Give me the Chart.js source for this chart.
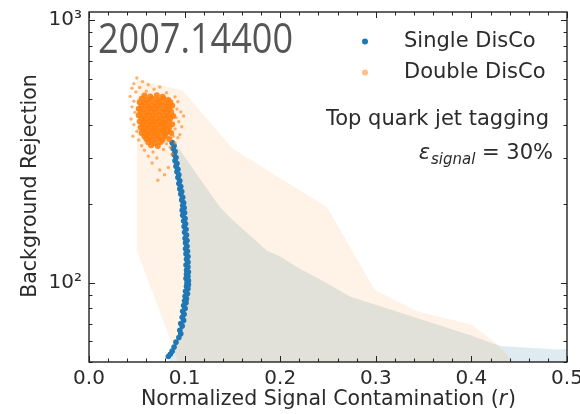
<!DOCTYPE html>
<html>
<head>
<meta charset="utf-8">
<script src="https://cdn.jsdelivr.net/npm/chart.js@4.4.0/dist/chart.umd.min.js"></script>
<style>
  html, body { margin: 0; padding: 0; background: #fff; }
  #wrap { width: 580px; height: 414px; }
</style>
</head>
<body>
<div id="wrap"><canvas id="chart" width="580" height="414"></canvas></div>
<script>
// Single DisCo: [signal contamination r, background rejection]
const singlePoints = [
  [0.087,342],[0.089,333],[0.088,325],[0.090,316],[0.089,308],[0.091,300],[0.090,292],[0.092,285],
  [0.091,278],[0.093,271],[0.092,265],[0.094,258],[0.093,252],[0.095,245],[0.094,239],[0.096,233],
  [0.095,228],[0.097,223],[0.096,218],[0.098,212],[0.097,207],[0.099,202],[0.098,197],[0.0995,193],
  [0.0975,189],[0.100,185],[0.098,181],[0.1005,176],[0.099,172],[0.101,168],[0.0995,164],[0.1015,160],
  [0.100,156],[0.102,152],[0.1005,148],[0.1025,145],[0.101,142],[0.1025,138],[0.101,135],[0.103,132],
  [0.1015,129],[0.1035,126],[0.102,123],[0.1035,120],[0.1015,117],[0.1035,115],[0.102,112],[0.104,110],
  [0.102,108],[0.1035,106],[0.1015,104],[0.104,102],[0.1025,100],[0.104,98.5],[0.102,97],[0.1035,95],
  [0.101,93],[0.103,91],[0.1005,89],[0.102,87],[0.100,85.5],[0.1015,84],[0.099,82],[0.1005,80],
  [0.098,78],[0.0995,76],[0.0975,74],[0.099,72],[0.096,70],[0.0975,68.5],[0.095,66],[0.096,64],
  [0.094,62],[0.091,59.5],[0.089,57],[0.087,55],[0.085,53.5],[0.083,52.5]
];

// Double DisCo: dense core
const doubleCore = [
  [0.058,517],[0.064,512],[0.071,518],[0.077,511],
  [0.055,502],[0.060,497],[0.066,503],[0.072,498],[0.078,502],[0.083,497],
  [0.053,487],[0.058,484],[0.063,489],[0.069,485],[0.074,488],[0.080,483],[0.085,487],
  [0.055,473],[0.061,470],[0.066,474],[0.071,471],[0.076,475],[0.082,470],[0.087,473],
  [0.052,460],[0.057,457],[0.063,461],[0.068,458],[0.073,461],[0.079,457],[0.084,460],
  [0.054,447],[0.060,444],[0.065,448],[0.070,445],[0.076,448],[0.081,444],[0.086,447],
  [0.052,435],[0.057,432],[0.062,436],[0.067,433],[0.073,436],[0.078,432],[0.083,435],[0.088,432],
  [0.055,423],[0.060,420],[0.065,424],[0.070,421],[0.075,424],[0.080,420],[0.085,423],
  [0.053,412],[0.058,409],[0.063,413],[0.068,410],[0.073,413],[0.078,409],[0.083,412],
  [0.056,402],[0.061,399],[0.066,403],[0.071,400],[0.076,403],[0.081,399],[0.087,402],
  [0.054,391],[0.059,388],[0.064,392],[0.069,389],[0.074,392],[0.079,388],[0.084,391],
  [0.057,381],[0.062,378],[0.067,382],[0.072,379],[0.077,382],[0.082,378],
  [0.055,372],[0.060,369],[0.065,373],[0.070,370],[0.075,373],[0.080,369],[0.086,372],
  [0.058,362],[0.063,359],[0.068,363],[0.073,360],[0.079,362],
  [0.060,353],[0.066,350],[0.071,354],[0.077,351],[0.084,353],
  [0.062,343],[0.069,341],[0.075,344],
  [0.065,334],[0.072,332]
];

// Double DisCo: scattered outliers around the core
const doubleOuter = [
  [0.050,603],[0.047,573],[0.056,584],[0.062,568],[0.045,551],[0.053,555],[0.068,546],[0.074,557],
  [0.049,533],[0.060,537],[0.081,530],[0.043,513],[0.047,492],[0.090,511],[0.093,490],[0.045,468],
  [0.092,459],[0.048,446],[0.096,448],[0.044,421],[0.091,426],[0.099,432],[0.047,400],[0.094,411],
  [0.050,378],[0.090,386],[0.097,393],[0.046,362],[0.052,350],[0.088,362],[0.093,357],[0.055,333],
  [0.081,339],[0.090,341],[0.058,320],[0.067,315],[0.078,322],[0.085,328],[0.062,304],[0.071,299],
  [0.066,286],[0.074,269],[0.079,258],[0.072,246],[0.083,275],[0.095,367],[0.087,309]
];

// outline of the Single DisCo spread band
const singleBand = [
  [0.087,341],[0.090,341],[0.137,194],[0.150,174],[0.186,133],[0.200,126],[0.221,113],[0.242,103],
  [0.273,88.7],[0.399,63.2],[0.430,57.5],[0.460,56.6],[0.490,55.8],[0.520,56.6],[0.520,40],
  [0.083,40],[0.084,52],[0.092,60],[0.098,75],[0.100,100],[0.100,130],[0.095,200],[0.090,290]
];

// outline of the Double DisCo spread band
const doubleBand = [
  [0.050,592],[0.098,541],[0.150,325],[0.249,194],[0.299,94],[0.343,78],[0.400,69.5],[0.427,58.5],
  [0.444,50],[0.444,40],[0.093,40],[0.093,50],[0.088,57],[0.050,133]
];

const xTickValues = [0, 0.1, 0.2, 0.3, 0.4, 0.5];
const xTickLabels = ['0.0', '0.1', '0.2', '0.3', '0.4', '0.5'];
const yTickValues = [100, 1000];
const yTickLabels = ['10\u00B2', '10\u00B3'];

const BLUE = '#1f77b4';
const TEXT = '#2b2b2b';
const SANS = '"DejaVu Sans", sans-serif';

const toXY = pts => pts.map(p => ({ x: p[0], y: p[1] }));

// inward ticks on all four sides plus the frame
const frame = {
  id: 'frame',
  afterDatasetsDraw(chart) {
    const { ctx, chartArea: a, scales: { x, y } } = chart;
    ctx.save();
    ctx.strokeStyle = '#222';
    ctx.lineWidth = 1;
    ctx.beginPath();
    for (let i = 0; i <= 25; i++) {
      const px = Math.round(x.getPixelForValue(i * 0.02)) + 0.5;
      const len = i % 5 === 0 ? 6 : 3.5;
      ctx.moveTo(px, a.bottom); ctx.lineTo(px, a.bottom - len);
      ctx.moveTo(px, a.top); ctx.lineTo(px, a.top + len);
    }
    [10, 100, 1000].forEach(dec => {
      for (let m = 1; m <= 9; m++) {
        const v = dec * m;
        if (v < y.min || v > y.max) continue;
        const py = Math.round(y.getPixelForValue(v)) + 0.5;
        const len = m === 1 ? 6 : 3.5;
        ctx.moveTo(a.left, py); ctx.lineTo(a.left + len, py);
        ctx.moveTo(a.right, py); ctx.lineTo(a.right - len, py);
      }
    });
    ctx.stroke();
    ctx.lineWidth = 1.4;
    ctx.strokeRect(a.left, a.top, a.right - a.left, a.bottom - a.top);
    ctx.restore();
  },
  afterDraw(chart) {
    const { ctx } = chart;
    ctx.save();

    // paper id in the corner
    ctx.fillStyle = '#555';
    ctx.font = '42px "Open Sans", sans-serif';
    ctx.textBaseline = 'alphabetic';
    const id = '2007.14400';
    const sx = 195 / ctx.measureText(id).width;
    ctx.save();
    ctx.translate(98, 53);
    ctx.scale(sx, 1);
    ctx.fillText(id, 0, 0);
    ctx.restore();

    // legend
    ctx.fillStyle = BLUE;
    ctx.beginPath(); ctx.arc(365, 41.5, 3, 0, Math.PI * 2); ctx.fill();
    ctx.fillStyle = 'rgba(255,127,14,0.5)';
    ctx.beginPath(); ctx.arc(365, 72.5, 3, 0, Math.PI * 2); ctx.fill();
    ctx.fillStyle = TEXT;
    ctx.font = '21px ' + SANS;
    ctx.textAlign = 'left';
    ctx.fillText('Single DisCo', 404, 47);
    ctx.fillText('Double DisCo', 404, 78);

    // annotation
    ctx.textAlign = 'right';
    ctx.fillText('Top quark jet tagging', 549, 125);
    const rest = ' = 30%';
    const wRest = ctx.measureText(rest).width;
    ctx.font = 'italic 15px ' + SANS;
    const wSub = ctx.measureText('signal').width;
    let xr = 553;
    ctx.font = '21px ' + SANS;
    ctx.fillText(rest, xr, 159);
    xr -= wRest;
    ctx.font = 'italic 15px ' + SANS;
    ctx.fillText('signal', xr, 164);
    xr -= wSub + 1;
    ctx.font = 'italic 21px ' + SANS;
    ctx.fillText('\u03B5', xr, 159);

    // axis titles
    ctx.textAlign = 'left';
    ctx.textBaseline = 'alphabetic';
    const xt = 'Normalized Signal Contamination (';
    ctx.font = '20.5px ' + SANS;
    const w1 = ctx.measureText(xt).width;
    ctx.font = 'italic 20.5px ' + SANS;
    const w2 = ctx.measureText('r').width;
    ctx.font = '20.5px ' + SANS;
    const w3 = ctx.measureText(')').width;
    const x0 = 328 - (w1 + w2 + w3) / 2;
    ctx.fillText(xt, x0, 405);
    ctx.font = 'italic 20.5px ' + SANS;
    ctx.fillText('r', x0 + w1, 405);
    ctx.font = '20.5px ' + SANS;
    ctx.fillText(')', x0 + w1 + w2 + 1, 405);

    ctx.save();
    ctx.translate(31, 186);
    ctx.rotate(-Math.PI / 2);
    ctx.textAlign = 'center';
    ctx.textBaseline = 'middle';
    ctx.fillText('Background Rejection', 0, 0);
    ctx.restore();

    ctx.restore();
  }
};

new Chart(document.getElementById('chart'), {
  type: 'scatter',
  data: {
    datasets: [
      {
        label: 'Double DisCo',
        data: toXY(doubleCore),
        pointRadius: 3,
        pointBorderWidth: 0,
        pointBackgroundColor: 'rgba(255,127,14,0.9)',
        order: 0
      },
      {
        label: 'Double DisCo (tail)',
        data: toXY(doubleOuter),
        pointRadius: 1.7,
        pointBorderWidth: 0,
        pointBackgroundColor: 'rgba(255,127,14,0.6)',
        order: 1
      },
      {
        label: 'Single DisCo',
        data: toXY(singlePoints),
        pointRadius: 2.8,
        pointBorderWidth: 0,
        pointBackgroundColor: BLUE,
        order: 2
      },
      {
        type: 'line',
        label: 'Double DisCo band',
        data: toXY(doubleBand),
        fill: 'shape',
        backgroundColor: 'rgba(255,127,14,0.1)',
        borderWidth: 0,
        pointRadius: 0,
        tension: 0,
        order: 3
      },
      {
        type: 'line',
        label: 'Single DisCo band',
        data: toXY(singleBand),
        fill: 'shape',
        backgroundColor: 'rgba(35,130,165,0.15)',
        borderWidth: 0,
        pointRadius: 0,
        tension: 0,
        order: 4
      }
    ]
  },
  options: {
    responsive: false,
    animation: false,
    events: [],
    layout: { padding: { left: 0, right: 13, top: 12, bottom: 0 } },
    plugins: {
      legend: { display: false },
      tooltip: { enabled: false }
    },
    scales: {
      x: {
        type: 'linear',
        min: 0,
        max: 0.5,
        grid: { display: false, drawTicks: false },
        border: { display: false },
        afterBuildTicks: s => { s.ticks = xTickValues.map(v => ({ value: v })); },
        ticks: {
          autoSkip: false,
          maxRotation: 0,
          padding: 5,
          color: TEXT,
          font: { family: 'DejaVu Sans', size: 20 },
          callback: (v, i) => xTickLabels[i]
        },
        afterFit: s => { s.height = 52; s.paddingLeft = 0; s.paddingRight = 0; }
      },
      y: {
        type: 'logarithmic',
        min: 50,
        max: 1075,
        grid: { display: false, drawTicks: false },
        border: { display: false },
        afterBuildTicks: s => { s.ticks = yTickValues.map(v => ({ value: v })); },
        ticks: {
          autoSkip: false,
          padding: 7,
          color: TEXT,
          font: { family: 'DejaVu Sans', size: 20 },
          callback: (v, i) => yTickLabels[i]
        },
        afterFit: s => { s.width = 89; s.paddingTop = 0; s.paddingBottom = 0; }
      }
    }
  },
  plugins: [frame]
});
</script>
</body>
</html>
